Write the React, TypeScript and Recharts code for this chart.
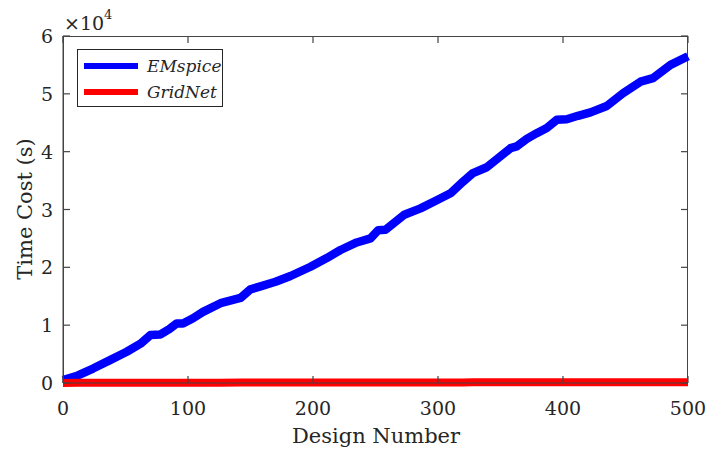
import { LineChart, Line, XAxis, YAxis, Legend } from 'recharts';

// design index where each sample was taken
const designNumber = [
  0, 12, 24, 38, 51, 62, 70, 78, 85, 91, 96, 104, 112, 126, 142, 150, 158, 170,
  182, 198, 211, 222, 235, 246, 252, 258, 273, 286, 299, 310, 320, 328, 339, 350,
  358, 363, 371, 379, 387, 395, 403, 412, 422, 435, 448, 462, 472, 486, 500,
];

// cumulative runtime in seconds
const emspiceCost = [
  500, 1300, 2500, 4000, 5400, 6800, 8300, 8400, 9300, 10300, 10300, 11200, 12300,
  13800, 14700, 16200, 16700, 17500, 18500, 20100, 21600, 23000, 24300, 25000,
  26400, 26500, 29100, 30200, 31600, 32800, 34800, 36300, 37300, 39200, 40600,
  40900, 42200, 43200, 44100, 45500, 45600, 46200, 46800, 47900, 50100, 52100,
  52700, 55000, 56500,
];

const gridnetCost = [
  20, 30, 30, 40, 40, 40, 50, 50, 50, 50, 60, 60, 60, 60, 70, 70, 70, 70, 80, 80,
  80, 80, 90, 90, 90, 90, 90, 100, 100, 100, 100, 110, 110, 110, 110, 110, 120,
  120, 120, 120, 130, 130, 130, 130, 140, 140, 140, 150, 150,
];

const xTicks = [0, 100, 200, 300, 400, 500];
const yTicks = [0, 10000, 20000, 30000, 40000, 50000, 60000];

const data = designNumber.map((d, i) => ({
  design: d,
  EMspice: emspiceCost[i],
  GridNet: gridnetCost[i],
}));

const FONT = '"DejaVu Serif", serif';
const INK = '#262626';
const AXIS = '#444';
const TICK_LEN = 7;
// plot box, used for the frame and to mirror tick marks onto the top and right edges
const BOX_X = 63;
const BOX_Y = 36;
const BOX_W = 625;
const BOX_H = 347;

const BottomTick = ({ x, y, payload }: any) => (
  <g>
    <line x1={x} y1={y} x2={x} y2={y - TICK_LEN} stroke={AXIS} strokeWidth={1.2} />
    <line x1={x} y1={y - BOX_H} x2={x} y2={y - BOX_H + TICK_LEN} stroke={AXIS} strokeWidth={1.2} />
    <text x={x} y={y + 32} textAnchor="middle" fontFamily={FONT} fontSize={19} fill={INK}>
      {payload.value}
    </text>
  </g>
);

const LeftTick = ({ x, y, payload }: any) => (
  <g>
    <line x1={x} y1={y} x2={x + TICK_LEN} y2={y} stroke={AXIS} strokeWidth={1.2} />
    <line x1={x + BOX_W} y1={y} x2={x + BOX_W - TICK_LEN} y2={y} stroke={AXIS} strokeWidth={1.2} />
    <text x={x - 10} y={y + 7} textAnchor="end" fontFamily={FONT} fontSize={19} fill={INK}>
      {payload.value / 10000}
    </text>
  </g>
);

const LegendBox = ({ payload }: any) => (
  <div
    style={{
      width: 144,
      height: 56,
      border: `1px solid ${INK}`,
      background: '#fff',
      position: 'relative',
    }}
  >
    {(payload || []).map((entry: any, i: number) => (
      <div
        key={entry.value}
        style={{ position: 'absolute', left: 5, top: 6 + i * 26, display: 'flex', alignItems: 'center', height: 20 }}
      >
        <svg width={56} height={20}>
          <line x1={1} y1={10} x2={55} y2={10} stroke={entry.color} strokeWidth={6} />
        </svg>
        <span
          style={{
            marginLeft: 8,
            fontFamily: FONT,
            fontStyle: 'italic',
            fontSize: 17,
            color: INK,
            lineHeight: '20px',
          }}
        >
          {entry.value}
        </span>
      </div>
    ))}
  </div>
);

export default function App() {
  return (
    <div style={{ position: 'absolute', left: 0, top: 0, width: 710, height: 456, background: '#fff' }}>
      {/* box frame around the plot, behind the chart */}
      <div
        style={{
          position: 'absolute',
          left: BOX_X,
          top: BOX_Y,
          width: BOX_W,
          height: BOX_H,
          border: `1.5px solid ${AXIS}`,
          boxSizing: 'border-box',
        }}
      />
      <LineChart
        width={710}
        height={456}
        data={data}
        margin={{ top: 36, right: 22, bottom: 0, left: 0 }}
        style={{ position: 'absolute', left: 0, top: 0 }}
      >
        <XAxis
          dataKey="design"
          type="number"
          domain={[0, 500]}
          ticks={xTicks}
          interval={0}
          height={73}
          tickSize={0}
          tickMargin={0}
          tickLine={false}
          axisLine={{ stroke: AXIS }}
          tick={<BottomTick />}
          label={{
            content: () => (
              <text x={376} y={443} textAnchor="middle" fontFamily={FONT} fontSize={21} fill={INK}>
                Design Number
              </text>
            ),
          }}
        />
        <YAxis
          type="number"
          domain={[0, 60000]}
          ticks={yTicks}
          interval={0}
          width={63}
          tickSize={0}
          tickMargin={0}
          tickLine={false}
          axisLine={{ stroke: AXIS }}
          tick={<LeftTick />}
          label={{
            content: () => (
              <g>
                <text
                  x={32}
                  y={209}
                  transform="rotate(-90 32 209)"
                  textAnchor="middle"
                  fontFamily={FONT}
                  fontSize={21}
                  fill={INK}
                >
                  Time Cost (s)
                </text>
                <text x={64} y={30} fontFamily={FONT} fontSize={19} fill={INK}>
                  ×10
                  <tspan dy={-11} fontSize={13}>
                    4
                  </tspan>
                </text>
              </g>
            ),
          }}
        />
        <Legend
          layout="vertical"
          align="center"
          verticalAlign="middle"
          content={<LegendBox />}
          wrapperStyle={{ position: 'absolute', left: 77, top: 49, width: 146, height: 58 }}
        />
        <Line
          type="linear"
          dataKey="EMspice"
          stroke="#0000ff"
          strokeWidth={8.5}
          strokeLinejoin="round"
          dot={false}
          isAnimationActive={false}
        />
        <Line
          type="linear"
          dataKey="GridNet"
          stroke="#ff0000"
          strokeWidth={8}
          dot={false}
          isAnimationActive={false}
        />
      </LineChart>
    </div>
  );
}
